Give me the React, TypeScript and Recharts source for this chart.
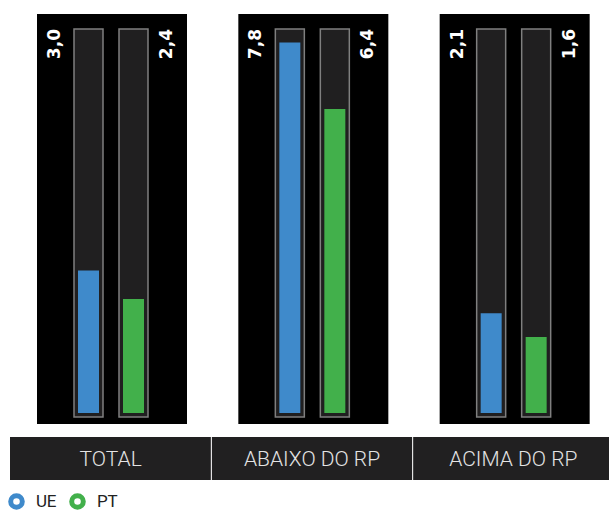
import React from 'react';
import { BarChart, Bar, XAxis, YAxis, LabelList, Legend } from 'recharts';

// values
const categories = ['TOTAL', 'ABAIXO DO RP', 'ACIMA DO RP'];
const ueValues = [3.0, 7.8, 2.1];
const ptValues = [2.4, 6.4, 1.6];

const seriesInfo = [
  { key: 'UE', color: '#3f8acb' },
  { key: 'PT', color: '#42b04b' },
];

const data = categories.map((name, i) => ({ name, UE: ueValues[i], PT: ptValues[i] }));

const CHART_W = 614;
const CHART_H = 510;
const MARGIN = { top: 33, right: 0, bottom: 27, left: 10 };
const BAND = (CHART_W - MARGIN.left - MARGIN.right) / categories.length;
const fmt = (v: number) => v.toFixed(1).replace('.', ',');

// dark track around each bar, the black panel is drawn behind the first series
const makeBackground = (withPanel: boolean) => (props: any) => {
  const { x, y, width, height } = props;
  return (
    <g>
      {withPanel && (
        <rect x={x - 41} y={y - 19} width={150} height={height + 30} fill="#000" />
      )}
      <rect
        x={x - 4}
        y={y - 4}
        width={width + 8}
        height={height + 8}
        fill="#201f20"
        stroke="#7f7f7f"
        strokeWidth={1.5}
      />
    </g>
  );
};

const makeValueLabel = (side: 'left' | 'right') => (props: any) => {
  const { x, width, value } = props;
  const cx = side === 'left' ? x - 24 : x + width + 22;
  return (
    <text
      transform={`translate(${cx}, ${MARGIN.top - 4}) rotate(-90)`}
      textAnchor="end"
      dominantBaseline="central"
      fill="#fff"
      fontFamily="DejaVu Sans, sans-serif"
      fontWeight="bold"
      fontSize={17}
    >
      {fmt(Number(value))}
    </text>
  );
};

const CategoryTick = (props: any) => {
  const { x, y, payload, index } = props;
  const top = y + 24;
  return (
    <g>
      <rect x={x - BAND / 2} y={top} width={BAND} height={43} fill="#212021" />
      {index > 0 && (
        <line x1={x - BAND / 2} x2={x - BAND / 2} y1={top} y2={top + 43} stroke="#fff" strokeWidth={1} />
      )}
      <text
        x={x}
        y={top + 22}
        textAnchor="middle"
        dominantBaseline="central"
        fill="#e4e4e4"
        fontFamily="Roboto, sans-serif"
        fontWeight={300}
        fontSize={21}
      >
        {payload.value}
      </text>
    </g>
  );
};

const RingLegend = () => (
  <div style={{ display: 'flex', alignItems: 'center', fontFamily: 'Roboto, sans-serif', fontSize: 17, color: '#222' }}>
    {seriesInfo.map((s) => (
      <div key={s.key} style={{ display: 'flex', alignItems: 'center', marginRight: 13 }}>
        <svg width={17} height={17} style={{ display: 'block', flexShrink: 0, marginRight: 11 }}>
          <circle cx={8.5} cy={8.5} r={5.8} fill="none" stroke={s.color} strokeWidth={5} />
        </svg>
        <span style={{ letterSpacing: -0.3 }}>{s.key}</span>
      </div>
    ))}
  </div>
);

export default function App() {
  return (
    <div style={{ position: 'absolute', left: 0, top: 0, width: 609, height: 510, overflow: 'hidden', background: '#fff' }}>
      <BarChart width={CHART_W} height={CHART_H} data={data} margin={MARGIN} barSize={21} barGap={24}>
        <XAxis
          dataKey="name"
          axisLine={false}
          tickLine={false}
          tickSize={0}
          tickMargin={0}
          height={70}
          interval={0}
          tick={<CategoryTick />}
        />
        <YAxis hide domain={[0, 8]} />
        <Legend
          layout="horizontal"
          verticalAlign="middle"
          align="center"
          content={<RingLegend />}
          wrapperStyle={{ top: 491, left: 8, width: 'auto' }}
        />
        <Bar dataKey="UE" fill={seriesInfo[0].color} isAnimationActive={false} background={makeBackground(true)}>
          <LabelList dataKey="UE" content={makeValueLabel('left')} />
        </Bar>
        <Bar dataKey="PT" fill={seriesInfo[1].color} isAnimationActive={false} background={makeBackground(false)}>
          <LabelList dataKey="PT" content={makeValueLabel('right')} />
        </Bar>
      </BarChart>
    </div>
  );
}
